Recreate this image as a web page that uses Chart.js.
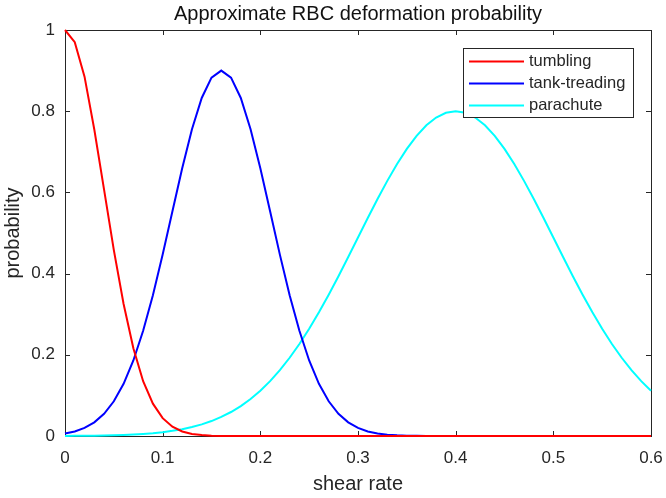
<!DOCTYPE html>
<html>
<head>
<meta charset="utf-8">
<script src="https://cdn.jsdelivr.net/npm/chart.js@4.4.1/dist/chart.umd.min.js"></script>
<style>
  html, body { margin: 0; padding: 0; background: #fff; }
</style>
</head>
<body>
<canvas id="myChart" width="666" height="498"></canvas>
<script>
const shearRate = [
  0, 0.01, 0.02, 0.03, 0.04, 0.05, 0.06, 0.07, 0.08, 0.09,
  0.1, 0.11, 0.12, 0.13, 0.14, 0.15, 0.16, 0.17, 0.18, 0.19,
  0.2, 0.21, 0.22, 0.23, 0.24, 0.25, 0.26, 0.27, 0.28, 0.29,
  0.3, 0.31, 0.32, 0.33, 0.34, 0.35, 0.36, 0.37, 0.38, 0.39,
  0.4, 0.41, 0.42, 0.43, 0.44, 0.45, 0.46, 0.47, 0.48, 0.49,
  0.5, 0.51, 0.52, 0.53, 0.54, 0.55, 0.56, 0.57, 0.58, 0.59, 0.6
];
const tumbling = [
  1, 0.97, 0.885, 0.755, 0.607, 0.458, 0.325, 0.216, 0.135, 0.0796,
  0.044, 0.0228, 0.0111, 0.0051, 0.0022, 0.0009, 0.0003, 0.0001, 0, 0,
  0, 0, 0, 0, 0, 0, 0, 0, 0, 0,
  0, 0, 0, 0, 0, 0, 0, 0, 0, 0,
  0, 0, 0, 0, 0, 0, 0, 0, 0, 0,
  0, 0, 0, 0, 0, 0, 0, 0, 0, 0, 0
];
const tankTreading = [
  0.0062, 0.0113, 0.0199, 0.0336, 0.0546, 0.0855, 0.1286, 0.1861, 0.2591, 0.3469,
  0.4468, 0.5534, 0.6593, 0.7555, 0.8326, 0.8826, 0.9, 0.8826, 0.8326, 0.7555,
  0.6593, 0.5534, 0.4468, 0.3469, 0.2591, 0.1861, 0.1286, 0.0855, 0.0546, 0.0336,
  0.0199, 0.0113, 0.0062, 0.0033, 0.0016, 0.0008, 0.0004, 0.0002, 0.0001, 0,
  0, 0, 0, 0, 0, 0, 0, 0, 0, 0,
  0, 0, 0, 0, 0, 0, 0, 0, 0, 0, 0
];
const parachute = [
  0.0003, 0.0004, 0.0007, 0.0009, 0.0013, 0.0019, 0.0027, 0.0037, 0.0052, 0.007,
  0.0095, 0.0127, 0.0168, 0.0221, 0.0286, 0.0368, 0.0469, 0.0591, 0.0737, 0.0911,
  0.1115, 0.1351, 0.1621, 0.1927, 0.2267, 0.2641, 0.3046, 0.348, 0.3936, 0.4408,
  0.4888, 0.5368, 0.5837, 0.6284, 0.67, 0.7073, 0.7394, 0.7653, 0.7844, 0.7961,
  0.8, 0.7961, 0.7844, 0.7653, 0.7394, 0.7073, 0.67, 0.6284, 0.5837, 0.5368,
  0.4888, 0.4408, 0.3936, 0.348, 0.3046, 0.2641, 0.2267, 0.1927, 0.1621, 0.1351, 0.1115
];
const seriesNames = ["tumbling", "tank-treading", "parachute"];
const seriesColors = ["#ff0000", "#0000ff", "#00ffff"];
const xTicks = [0, 0.1, 0.2, 0.3, 0.4, 0.5, 0.6];
const yTicks = [0, 0.2, 0.4, 0.6, 0.8, 1];

const FONT = "'Liberation Sans', Arial, Helvetica, sans-serif";
const AXIS_COLOR = "#262626";

function toPoints(ys) {
  return shearRate.map((x, i) => ({ x: x, y: ys[i] }));
}

// axes box with inward ticks, drawn under the lines
const boxPlugin = {
  id: "boxPlugin",
  beforeDatasetsDraw(chart) {
    const { ctx, chartArea: a, scales } = chart;
    ctx.save();
    ctx.strokeStyle = AXIS_COLOR;
    ctx.lineWidth = 1;
    ctx.strokeRect(Math.round(a.left) + 0.5, Math.round(a.top) + 0.5,
      Math.round(a.right - a.left), Math.round(a.bottom - a.top));
    ctx.beginPath();
    xTicks.forEach((v) => {
      const px = Math.round(scales.x.getPixelForValue(v)) + 0.5;
      ctx.moveTo(px, a.bottom); ctx.lineTo(px, a.bottom - 5);
      ctx.moveTo(px, a.top); ctx.lineTo(px, a.top + 5);
    });
    yTicks.forEach((v) => {
      const py = Math.round(scales.y.getPixelForValue(v)) + 0.5;
      ctx.moveTo(a.left, py); ctx.lineTo(a.left + 5, py);
      ctx.moveTo(a.right, py); ctx.lineTo(a.right - 5, py);
    });
    ctx.stroke();
    ctx.restore();
  },
};

// boxed legend inside the plot, top right
const legendPlugin = {
  id: "legendPlugin",
  afterDatasetsDraw(chart) {
    const ctx = chart.ctx;
    const bx = 463.5, by = 48.5, bw = 170, bh = 69;
    ctx.save();
    ctx.fillStyle = "#fff";
    ctx.fillRect(bx, by, bw, bh);
    ctx.strokeStyle = AXIS_COLOR;
    ctx.lineWidth = 1;
    ctx.strokeRect(bx, by, bw, bh);
    ctx.font = "16.5px " + FONT;
    ctx.textBaseline = "middle";
    ctx.textAlign = "left";
    chart.data.datasets.forEach((ds, i) => {
      const y = 61.5 + i * 22;
      ctx.strokeStyle = ds.borderColor;
      ctx.lineWidth = 2;
      ctx.beginPath();
      ctx.moveTo(469, y);
      ctx.lineTo(524, y);
      ctx.stroke();
      ctx.fillStyle = AXIS_COLOR;
      ctx.fillText(ds.label, 529, y);
    });
    ctx.restore();
  },
};

const fmt = (v) => String(Math.round(v * 10) / 10);

const ctx = document.getElementById("myChart");
const myChart = new Chart(ctx, {
  type: "line",
  data: {
    datasets: [tumbling, tankTreading, parachute].map((ys, i) => ({
      label: seriesNames[i],
      data: toPoints(ys),
      borderColor: seriesColors[i],
      backgroundColor: seriesColors[i],
      borderWidth: 2,
      pointRadius: 0,
      tension: 0,
      fill: false,
      clip: false,
    })),
  },
  options: {
    responsive: false,
    animation: false,
    devicePixelRatio: 1,
    layout: { padding: { left: 0, right: 15, top: 0, bottom: 0 } },
    plugins: {
      legend: { display: false },
      tooltip: { enabled: false },
      title: {
        display: true,
        fullSize: false,
        text: "Approximate RBC deformation probability",
        color: "#111",
        font: { family: FONT, size: 20, weight: "normal" },
        padding: { top: 2, bottom: 4 },
      },
    },
    scales: {
      x: {
        type: "linear",
        min: 0,
        max: 0.6,
        afterBuildTicks: (s) => { s.ticks = xTicks.map((v) => ({ value: v })); },
        afterFit: (s) => { s.height = 62; s.paddingLeft = 0; s.paddingRight = 0; },
        grid: { display: false, drawTicks: false },
        border: { display: false },
        ticks: {
          color: AXIS_COLOR,
          font: { family: FONT, size: 17 },
          padding: 12,
          maxRotation: 0,
          autoSkip: false,
          callback: fmt,
        },
        title: {
          display: true,
          text: "shear rate",
          color: AXIS_COLOR,
          font: { family: FONT, size: 20 },
          padding: { top: 0, bottom: 2 },
        },
      },
      y: {
        type: "linear",
        min: 0,
        max: 1,
        afterBuildTicks: (s) => { s.ticks = yTicks.map((v) => ({ value: v })); },
        afterFit: (s) => { s.width = 65; s.paddingTop = 0; s.paddingBottom = 0; },
        grid: { display: false, drawTicks: false },
        border: { display: false },
        ticks: {
          color: AXIS_COLOR,
          font: { family: FONT, size: 17 },
          padding: 10,
          autoSkip: false,
          callback: fmt,
        },
        title: {
          display: true,
          text: "probability",
          color: AXIS_COLOR,
          font: { family: FONT, size: 20 },
          padding: { top: 1, bottom: 0 },
        },
      },
    },
  },
  plugins: [boxPlugin, legendPlugin],
});
</script>
</body>
</html>
